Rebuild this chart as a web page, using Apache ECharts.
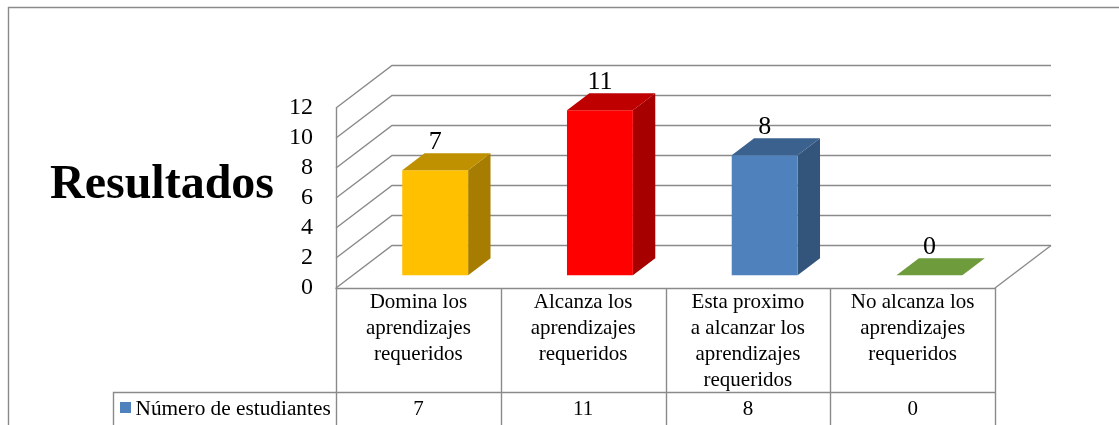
<!DOCTYPE html>
<html>
<head>
<meta charset="utf-8">
<script src="https://cdn.jsdelivr.net/npm/echarts@6/dist/echarts.min.js"></script>
<style>
  html, body { margin: 0; padding: 0; background: #ffffff; }
  #chart { width: 1119px; height: 425px; }
</style>
</head>
<body>
<div id="chart"></div>
<script>
// ---- data ----
const categories = [
  'Domina los\naprendizajes\nrequeridos',
  'Alcanza los\naprendizajes\nrequeridos',
  'Esta proximo\na alcanzar los\naprendizajes\nrequeridos',
  'No alcanza los\naprendizajes\nrequeridos'
];
const values = [7, 11, 8, 0];
const seriesName = 'Número de estudiantes';
const yTicks = [0, 2, 4, 6, 8, 10, 12];
const chartTitle = 'Resultados';

// ---- styling ----
const barColors = ['#FFC000', '#FF0000', '#4F81BD', '#92D050'];
const legendColor = '#4F81BD';
const LINE = '#8a8a8a';
const SERIF = "'Liberation Serif', 'Times New Roman', serif";

// front plane of the 3D box, and the oblique depth vector
const GRID = { left: 336, top: 108, width: 659, height: 180 };
const DEPTH = [56, -42.5];
const BAR_SPAN = [0.3, 0.7];   // bar front / back depth as fraction of box depth
const BAR_WIDTH = 0.4;         // bar width as fraction of category band

function shade(hex, k) {
  const n = parseInt(hex.slice(1), 16);
  const r = Math.round(((n >> 16) & 255) * k);
  const g = Math.round(((n >> 8) & 255) * k);
  const b = Math.round((n & 255) * k);
  return 'rgb(' + r + ',' + g + ',' + b + ')';
}

const chart = echarts.init(document.getElementById('chart'));

// walls: each tick gives a line on the left wall and on the back wall
const wallSeries = {
  type: 'custom',
  silent: true,
  z: 1,
  data: yTicks.map(v => [0, v]),
  encode: { x: 0, y: 1 },
  renderItem(params, api) {
    const cs = params.coordSys;
    const y = api.coord([0, api.value(1)])[1];
    const x0 = cs.x, x1 = cs.x + cs.width;
    const children = [{
      type: 'polyline',
      shape: { points: [[x0, y], [x0 + DEPTH[0], y + DEPTH[1]], [x1 + DEPTH[0], y + DEPTH[1]]] },
      style: { stroke: LINE, lineWidth: 1.4, fill: null }
    }];
    if (api.value(1) === 0) {
      children.push({
        type: 'line',
        shape: { x1: x1, y1: y, x2: x1 + DEPTH[0], y2: y + DEPTH[1] },
        style: { stroke: LINE, lineWidth: 1.4 }
      });
    }
    return { type: 'group', children };
  }
};

// 3D columns: side, front and top faces plus the value above
const barSeries = {
  type: 'custom',
  name: seriesName,
  z: 3,
  data: values.map((v, i) => [i, v]),
  encode: { x: 0, y: 1 },
  renderItem(params, api) {
    const i = api.value(0), v = api.value(1);
    const base = api.coord([i, 0]);
    const top = api.coord([i, v]);
    const w = api.size([1, 0])[0] * BAR_WIDTH;
    const f0 = [DEPTH[0] * BAR_SPAN[0], DEPTH[1] * BAR_SPAN[0]];
    const f1 = [DEPTH[0] * BAR_SPAN[1], DEPTH[1] * BAR_SPAN[1]];
    const xl = base[0] - w / 2, xr = base[0] + w / 2;
    const yt = top[1], yb = base[1];
    const color = barColors[i % barColors.length];
    return {
      type: 'group',
      children: [
        {
          type: 'polygon',
          shape: { points: [[xr + f0[0], yt + f0[1]], [xr + f1[0], yt + f1[1]], [xr + f1[0], yb + f1[1]], [xr + f0[0], yb + f0[1]]] },
          style: { fill: shade(color, 0.65) }
        },
        {
          type: 'rect',
          shape: { x: xl + f0[0], y: yt + f0[1], width: w, height: yb - yt },
          style: { fill: color }
        },
        {
          type: 'polygon',
          shape: { points: [[xl + f0[0], yt + f0[1]], [xr + f0[0], yt + f0[1]], [xr + f1[0], yt + f1[1]], [xl + f1[0], yt + f1[1]]] },
          style: { fill: shade(color, 0.75) }
        },
        {
          type: 'text',
          x: base[0] + f0[0],
          y: yt + f1[1] - 11,
          style: {
            text: String(v), fill: '#000', fontFamily: SERIF, fontSize: 26,
            align: 'center', verticalAlign: 'middle'
          }
        }
      ]
    };
  }
};

// data table under the plot
const band = GRID.width / categories.length;
const floorY = GRID.top + GRID.height;
const rowY = 392.5;
const tableBottom = 440;
const legendLeft = 113;
const tableGraphics = [];
for (let k = 0; k <= categories.length; k++) {
  const x = Math.round(GRID.left + k * band) + 0.5;
  tableGraphics.push({
    type: 'line', silent: true,
    shape: { x1: x, y1: floorY, x2: x, y2: tableBottom },
    style: { stroke: LINE, lineWidth: 1.4 }
  });
}
tableGraphics.push({
  type: 'polyline', silent: true,
  shape: { points: [[legendLeft + 0.5, tableBottom], [legendLeft + 0.5, rowY], [GRID.left + GRID.width, rowY]] },
  style: { stroke: LINE, lineWidth: 1.4, fill: null }
});
values.forEach((v, i) => {
  tableGraphics.push({
    type: 'text', silent: true,
    x: GRID.left + band * (i + 0.5), y: 409,
    style: { text: String(v), fill: '#000', fontFamily: SERIF, fontSize: 21, align: 'center', verticalAlign: 'middle' }
  });
});
tableGraphics.push({
  type: 'rect', silent: true,
  shape: { x: 120, y: 402, width: 11, height: 11 },
  style: { fill: legendColor }
});
tableGraphics.push({
  type: 'text', silent: true,
  x: 135.5, y: 409,
  style: { text: seriesName, fill: '#000', fontFamily: SERIF, fontSize: 21.3, align: 'left', verticalAlign: 'middle' }
});

const option = {
  animation: false,
  backgroundColor: '#ffffff',
  grid: { left: GRID.left, top: GRID.top, width: GRID.width, height: GRID.height },
  xAxis: {
    type: 'category',
    data: categories,
    axisLine: { show: true, lineStyle: { color: LINE, width: 1.4 } },
    axisTick: { show: false },
    splitLine: { show: false },
    axisLabel: {
      interval: 0, margin: 1, color: '#000', fontFamily: SERIF,
      fontSize: 21, lineHeight: 26
    }
  },
  yAxis: {
    type: 'value',
    min: 0, max: 12, interval: 2,
    axisLine: { show: true, lineStyle: { color: LINE, width: 1.4 } },
    axisTick: { show: false },
    splitLine: { show: false },
    axisLabel: { margin: 23, color: '#000', fontFamily: SERIF, fontSize: 24 }
  },
  series: [wallSeries, barSeries],
  graphic: [
    {
      type: 'polyline', silent: true,
      shape: { points: [[8.5, 440], [8.5, 7.5], [1130, 7.5]] },
      style: { stroke: LINE, lineWidth: 1.4, fill: null }
    },
    {
      type: 'text', silent: true,
      x: 50, y: 185.5,
      style: { text: chartTitle, fill: '#000', fontFamily: SERIF, fontSize: 48, fontWeight: 'bold', align: 'left', verticalAlign: 'middle' }
    }
  ].concat(tableGraphics)
};

chart.setOption(option);
</script>
</body>
</html>
